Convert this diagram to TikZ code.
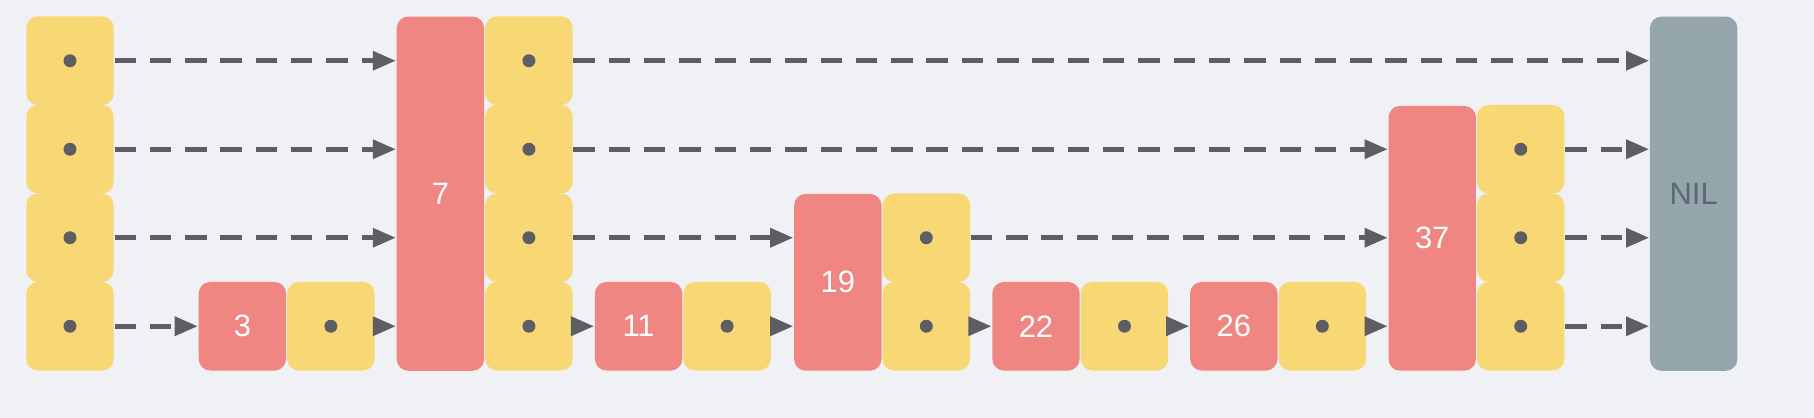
\documentclass[tikz,border=0pt]{standalone}
\usepackage{fontspec}
\setmainfont{Liberation Sans}
\usetikzlibrary{arrows.meta}
\definecolor{bgcol}{HTML}{F0F1F5}
\definecolor{cellyellow}{HTML}{F8D775}
\definecolor{keyred}{HTML}{EF8681}
\definecolor{nilgray}{HTML}{95A5AC}
\definecolor{nilText}{HTML}{5B6A72}
\definecolor{ptrgray}{HTML}{5D5E64}
\begin{document}
\begin{tikzpicture}[x=0.01cm,y=-0.01cm,
    ptr cell/.style={rectangle,rounded corners=0.1cm,fill=cellyellow,minimum width=0.755cm,minimum height=0.765cm,inner sep=0pt,
        path picture={\fill[ptrgray] (path picture bounding box.center) circle (0.056cm);}},
    key node/.style={rectangle,rounded corners=0.1cm,fill=keyred,minimum width=0.755cm,inner sep=0pt,text=white,font=\fontsize{7.6}{9}\selectfont},
    link/.style={ptrgray,line width=0.042cm,dash pattern=on 0.185cm off 0.12cm,-{Triangle[length=0.2cm,width=0.16cm]}}]
                \fill[bgcol] (0,0) rectangle (1568,361);

                % head
                \node[ptr cell] at (60.5,52.5) (h4) {};
                \node[ptr cell] at (60.5,129) (h3) {};
                \node[ptr cell] at (60.5,205.5) (h2) {};
                \node[ptr cell] at (60.5,282) (h1) {};

                \node[key node,minimum height=0.765cm] at (209.5,282) (k3) {3};
                \node[ptr cell] at (286,282) (p3a) {};

                \node[key node,minimum height=3.06cm] at (380.7,167.4) (k7) {7};
                \node[ptr cell] at (457.2,52.5) (p7d) {};
                \node[ptr cell] at (457.2,129) (p7c) {};
                \node[ptr cell] at (457.2,205.5) (p7b) {};
                \node[ptr cell] at (457.2,282) (p7a) {};

                \node[key node,minimum height=0.765cm] at (552,282) (k11) {11};
                \node[ptr cell] at (628.5,282) (p11a) {};

                \node[key node,minimum height=1.527cm] at (724.2,244) (k19) {19};
                \node[ptr cell] at (800.7,205.5) (p19b) {};
                \node[ptr cell] at (800.7,282) (p19a) {};

                \node[key node,minimum height=0.765cm] at (895.5,282) (k22) {22};
                \node[ptr cell] at (972,282) (p22a) {};

                \node[key node,minimum height=0.765cm] at (1066.5,282) (k26) {26};
                \node[ptr cell] at (1143,282) (p26a) {};

                \node[key node,minimum height=2.288cm] at (1238,206) (k37) {37};
                \node[ptr cell] at (1314.5,129) (p37c) {};
                \node[ptr cell] at (1314.5,205.5) (p37b) {};
                \node[ptr cell] at (1314.5,282) (p37a) {};

                \node[rectangle,rounded corners=0.1cm,fill=nilgray,minimum width=0.755cm,minimum height=3.06cm,
                    text=nilText,font=\fontsize{7.6}{9}\selectfont] at (1464,167.4) (nil) {NIL};

                \path[link]
                    % level 4
                    (h4.east) edge (h4.east -| k7.west)
                    (p7d.east) edge (p7d.east -| nil.west)
                    % level 3
                    (h3.east) edge (h3.east -| k7.west)
                    (p7c.east) edge (p7c.east -| k37.west)
                    (p37c.east) edge (p37c.east -| nil.west)
                    % level 2
                    (h2.east) edge (h2.east -| k7.west)
                    (p7b.east) edge (p7b.east -| k19.west)
                    (p19b.east) edge (p19b.east -| k37.west)
                    (p37b.east) edge (p37b.east -| nil.west)
                    % level 1
                    (h1.east) edge (k3.west)
                    (p3a.east) edge (p3a.east -| k7.west)
                    (p7a.east) edge (k11.west)
                    (p11a.east) edge (p11a.east -| k19.west)
                    (p19a.east) edge (k22.west)
                    (p22a.east) edge (k26.west)
                    (p26a.east) edge (p26a.east -| k37.west)
                    (p37a.east) edge (p37a.east -| nil.west)
                    ;
            \end{tikzpicture}
\end{document}
